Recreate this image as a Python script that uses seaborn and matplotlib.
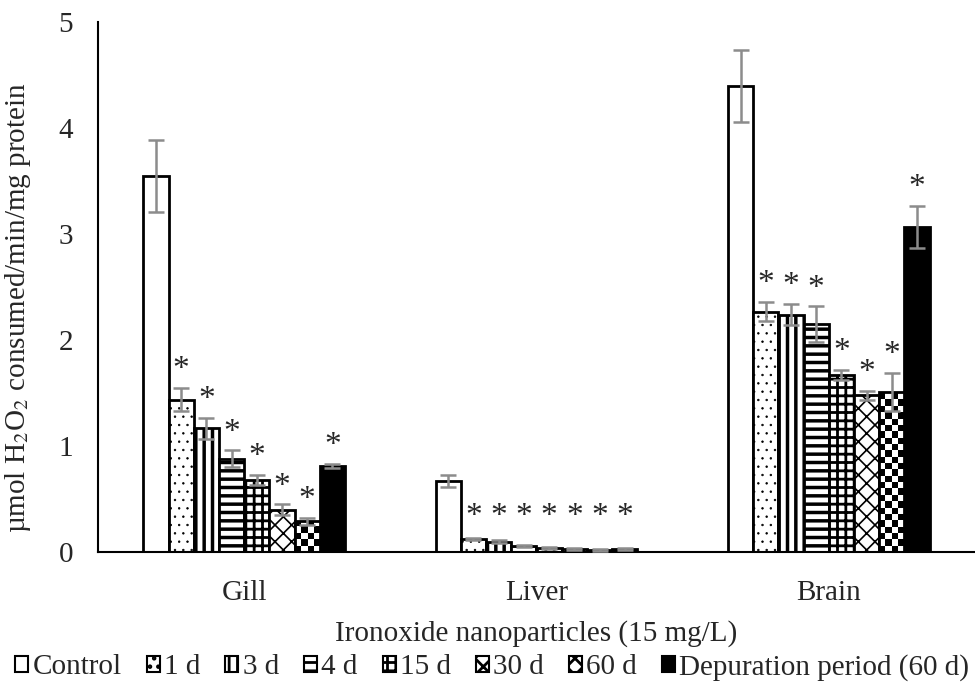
"""Catalase-like activity chart: ironoxide nanoparticle exposure by organ."""

import numpy as np
import pandas as pd
import seaborn as sns
import matplotlib

matplotlib.use("Agg")
import matplotlib.pyplot as plt
from matplotlib.patches import Patch

organs = ["Gill", "Liver", "Brain"]
groups = ["Control", "1 d", "3 d", "4 d", "15 d", "30 d", "60 d", "Depuration period (60 d)"]

values = {
    "Gill": [3.55, 1.44, 1.17, 0.88, 0.68, 0.40, 0.29, 0.81],
    "Liver": [0.67, 0.12, 0.10, 0.06, 0.04, 0.03, 0.02, 0.03],
    "Brain": [4.40, 2.27, 2.24, 2.15, 1.67, 1.48, 1.51, 3.07],
}
errors = {
    "Gill": [0.34, 0.11, 0.10, 0.08, 0.05, 0.05, 0.03, 0.02],
    "Liver": [0.06, 0.01, 0.01, 0.01, 0.01, 0.01, 0.01, 0.01],
    "Brain": [0.34, 0.09, 0.10, 0.17, 0.05, 0.04, 0.18, 0.20],
}
significant = [False, True, True, True, True, True, True, True]

fills = ["white", "white", "white", "white", "white", "white", "white", "black"]
hatches = ["", "..", "||", "--", "++", "xx", None, ""]
hatch_lw = [1.0, 0.5, 2.5, 2.5, 2.0, 1.2, 1.0, 1.0]

rows = []
for organ in organs:
    for i, g in enumerate(groups):
        rows.append({"organ": organ, "group": g,
                     "value": values[organ][i], "err": errors[organ][i],
                     "sig": significant[i]})
df = pd.DataFrame(rows)

sns.set_theme(style="white")
plt.rcParams["font.family"] = ["Liberation Serif", "DejaVu Serif"]
plt.rcParams["mathtext.fontset"] = "stix"
plt.rcParams["hatch.linewidth"] = 2.0
plt.rcParams["hatch.color"] = "black"

fig = plt.figure(figsize=(9.75, 6.98), dpi=100)
ax = fig.add_axes([0.1005, 0.209, 0.8995, 0.759])

sns.barplot(data=df, x="organ", y="value", hue="group", order=organs, hue_order=groups,
            palette=dict(zip(groups, fills)), edgecolor="black", linewidth=2.0,
            width=0.69, gap=0, errorbar=None, legend=False, ax=ax)

bar_containers = list(ax.containers)
checker_patches = []
for gi, container in enumerate(bar_containers):
    for oi, bar in enumerate(container.patches):
        if hatches[gi]:
            bar.set_hatch(hatches[gi])
            if hasattr(bar, "set_hatch_linewidth"):
                bar.set_hatch_linewidth(hatch_lw[gi])
        if hatches[gi] is None:
            checker_patches.append(bar)
        organ = organs[oi]
        x = bar.get_x() + bar.get_width() / 2
        v = values[organ][gi]
        e = errors[organ][gi]
        ax.errorbar(x, v, yerr=e, fmt="none", ecolor="#8c8c8c", elinewidth=1.8,
                    capsize=6, capthick=1.8, zorder=5)
        if significant[gi]:
            ystar = max(v + e + 0.17, 0.33)
            ax.text(x, ystar, "*", ha="center", va="center", fontsize=24)

# checkerboard fill for the 60 d bars
for bar in checker_patches:
    x0, w, h = bar.get_x(), bar.get_width(), bar.get_height()
    ncol = 4
    nrow = max(1, int(np.ceil(h / 0.06)))
    board = (np.indices((nrow, ncol)).sum(axis=0) % 2).astype(float)
    im = ax.imshow(board, cmap="gray", extent=(x0, x0 + w, 0, nrow * 0.06),
                   aspect="auto", interpolation="nearest", origin="lower", zorder=2)
    im.set_clip_path(bar)
    bar.set_zorder(3)
    bar.set_facecolor("none")

ax.set_xlim(-0.5, 2.5)
ax.set_ylim(0, 5)
ax.set_yticks([0, 1, 2, 3, 4, 5])
ax.tick_params(axis="y", length=0, labelsize=21, pad=18)
ax.tick_params(axis="x", length=0, labelsize=21, pad=20)
ax.set_xlabel("Ironoxide nanoparticles (15 mg/L)", fontsize=21, labelpad=10)
ax.set_ylabel(r"µmol H$_2$O$_2$ consumed/min/mg protein", fontsize=21)
ax.yaxis.set_label_coords(-0.074, 0.462)
for side in ["top", "right"]:
    ax.spines[side].set_visible(False)
for side in ["left", "bottom"]:
    ax.spines[side].set_color("black")
    ax.spines[side].set_linewidth(1.5)

handles = []
for gi, g in enumerate(groups):
    h = Patch(facecolor=fills[gi], edgecolor="black", linewidth=1.5,
              hatch=hatches[gi] if hatches[gi] else ("xx" if hatches[gi] is None else ""), label=g)
    handles.append(h)
fig.legend(handles=handles, loc="lower center", bbox_to_anchor=(0.505, 0.008), ncol=8,
           frameon=False, fontsize=21, handlelength=0.45, handleheight=0.45,
           handletextpad=0.15, columnspacing=0.85, borderaxespad=0.2, borderpad=0.2)

fig.savefig("out.png", dpi=100)
